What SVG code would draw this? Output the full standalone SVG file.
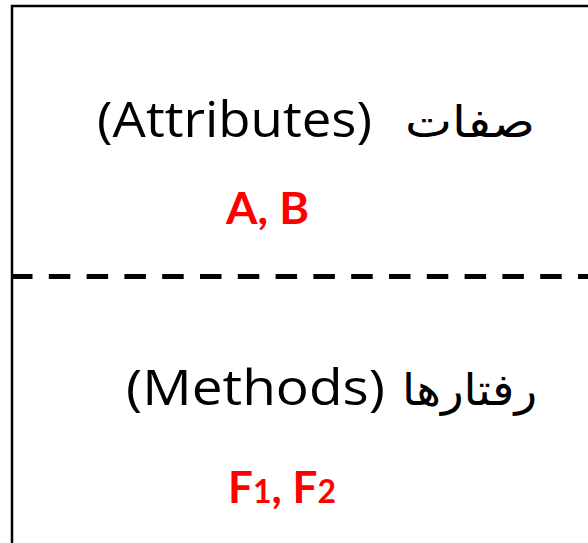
<svg xmlns="http://www.w3.org/2000/svg" width="588" height="543" viewBox="0 0 588 543">
<style>
.lbl{font-family:"Open Sans","DejaVu Sans",sans-serif;font-size:50px;font-weight:500;fill:#000}
.ar{font-family:"DejaVu Sans","Noto Sans",sans-serif;font-size:44px;fill:#000}
.red{font-family:"Lato","Open Sans",sans-serif;font-size:44px;font-weight:bold;fill:#ff0000}
</style>
<rect x="0" y="0" width="588" height="543" fill="#fff"/>
<g id="box">
<path d="M12,543 V6 H588" fill="none" stroke="#000" stroke-width="2.5"/>
</g>
<g id="connectors">
<line x1="11" y1="276.5" x2="588" y2="276.5" stroke="#000" stroke-width="5" stroke-dasharray="21.5 16.3"/>
</g>
<g id="attributes">
<text class="lbl" x="97" y="137" textLength="275" lengthAdjust="spacingAndGlyphs">(Attributes)</text>
<text class="ar" x="405" y="137" textLength="130" lengthAdjust="spacingAndGlyphs">صفات</text>
<text class="red" x="226" y="224" textLength="83" lengthAdjust="spacingAndGlyphs">A, B</text>
</g>
<g id="methods">
<text class="lbl" x="126" y="405" textLength="259" lengthAdjust="spacingAndGlyphs">(Methods)</text>
<text class="ar" x="402" y="405" textLength="135" lengthAdjust="spacingAndGlyphs">رفتارها</text>
<text class="red" x="228" y="503">F<tspan font-size="32">1</tspan>, F<tspan font-size="32">2</tspan></text>
</g>
</svg>
